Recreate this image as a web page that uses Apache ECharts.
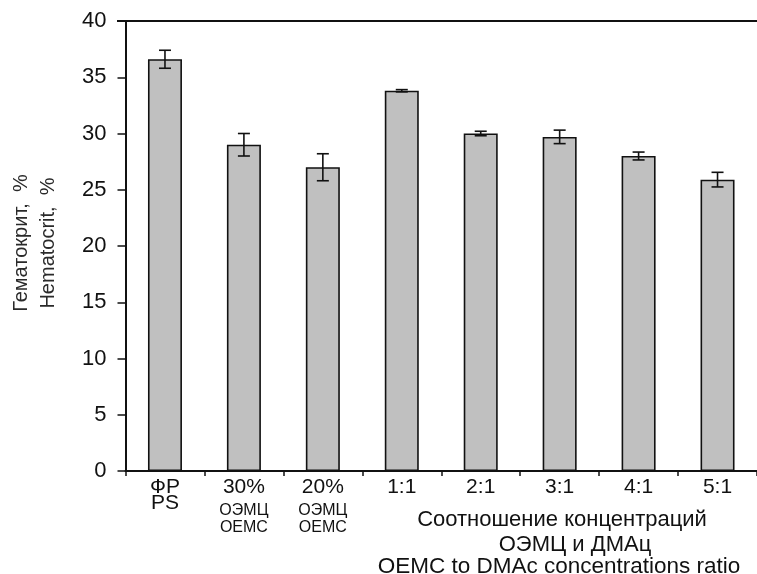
<!DOCTYPE html>
<html>
<head>
<meta charset="utf-8">
<script src="https://cdn.jsdelivr.net/npm/echarts@6/dist/echarts.min.js"></script>
<style>
  html, body { margin: 0; padding: 0; background: #fff; }
  #chart { width: 757px; height: 574px; }
</style>
</head>
<body>
<div id="chart"></div>
<script>
// Groups along the x axis (keys into the label formatter)
const categories = ['PS', '30', '20', '1:1', '2:1', '3:1', '4:1', '5:1'];
// Hematocrit, % (mean)
const hematocrit = [36.6, 29.0, 27.0, 33.8, 30.0, 29.7, 28.0, 25.9];
// Standard deviation for each group
const errors = [0.8, 1.0, 1.2, 0.1, 0.2, 0.6, 0.35, 0.65];
// Y axis ticks
const yTicks = [0, 5, 10, 15, 20, 25, 30, 35, 40];

const FONT = '"Liberation Sans", Arial, sans-serif';
const INK = '#111';

const chart = echarts.init(document.getElementById('chart'), null, { renderer: 'canvas' });

const errorData = hematocrit.map((v, i) => [i, v - errors[i], v + errors[i]]);

chart.setOption({
  animation: false,
  backgroundColor: '#fff',
  grid: { left: 125.5, top: 21, width: 642, height: 450, containLabel: false, show: false },
  xAxis: {
    type: 'category',
    data: categories,
    boundaryGap: true,
    axisLine: { lineStyle: { color: INK, width: 2 } },
    axisTick: { show: true, length: 5, lineStyle: { color: INK, width: 1.5 } },
    axisLabel: {
      interval: 0,
      margin: 8,
      color: INK,
      fontFamily: FONT,
      formatter: function (val) {
        if (val === 'PS') return '{b|ФР}\n{b|PS}';
        // spacer token widens the gap under the percentage line
        if (val === '30' || val === '20') return '{b|' + val + '%}\n{sp|\u200b}{s1|ОЭМЦ}\n{s|OEMC}';
        return '{b|' + val + '}';
      },
      rich: {
        b: { fontSize: 21, fontFamily: FONT, color: INK, lineHeight: 16 },
        sp: { fontSize: 1, lineHeight: 24 },
        s1: { fontSize: 16, fontFamily: FONT, color: INK, lineHeight: 18, verticalAlign: 'bottom' },
        s: { fontSize: 16, fontFamily: FONT, color: INK, lineHeight: 18 }
      }
    },
    splitLine: { show: false }
  },
  yAxis: {
    type: 'value',
    min: yTicks[0],
    max: yTicks[yTicks.length - 1],
    interval: 5,
    axisLine: { show: true, lineStyle: { color: INK, width: 2 } },
    axisTick: { show: true, inside: false, length: 8, lineStyle: { color: INK, width: 1.5 } },
    axisLabel: { color: INK, fontSize: 22, fontFamily: FONT, margin: 19 },
    splitLine: { show: false }
  },
  graphic: [
    // top frame line
    { type: 'line', shape: { x1: 117, y1: 21, x2: 757, y2: 21 }, style: { stroke: INK, lineWidth: 2 }, z: 10 },
    // y axis title
    {
      type: 'text', x: 35, y: 243, rotation: Math.PI / 2, originX: 0, originY: 0,
      style: { text: 'Гематокрит,  %\nHematocrit,  %', fontSize: 20, fontFamily: FONT, fill: '#2a2a2a',
               align: 'center', verticalAlign: 'middle', lineHeight: 27 }
    },
    // x axis title
    {
      type: 'text', x: 562, y: 520,
      style: { text: 'Соотношение концентраций', fontSize: 22, fontFamily: FONT, fill: INK,
               align: 'center', verticalAlign: 'middle' }
    },
    {
      type: 'text', x: 575, y: 545,
      style: { text: 'ОЭМЦ и ДМАц', fontSize: 22, fontFamily: FONT, fill: INK,
               align: 'center', verticalAlign: 'middle' }
    },
    {
      type: 'text', x: 559, y: 567,
      style: { text: 'OEMC to DMAc concentrations ratio', fontSize: 22.5, fontFamily: FONT, fill: INK,
               align: 'center', verticalAlign: 'middle' }
    }
  ],
  series: [
    {
      type: 'bar',
      data: hematocrit,
      barWidth: 34,
      itemStyle: { color: '#c0c0c0', borderColor: INK, borderWidth: 1.6 }
    },
    {
      type: 'custom',
      data: errorData,
      z: 5,
      renderItem: function (params, api) {
        const x = api.value(0);
        const lo = api.coord([x, api.value(1)]);
        const hi = api.coord([x, api.value(2)]);
        const cap = 6;
        const st = { stroke: INK, lineWidth: 1.6 };
        return {
          type: 'group',
          children: [
            { type: 'line', shape: { x1: lo[0], y1: lo[1], x2: hi[0], y2: hi[1] }, style: st },
            { type: 'line', shape: { x1: hi[0] - cap, y1: hi[1], x2: hi[0] + cap, y2: hi[1] }, style: st },
            { type: 'line', shape: { x1: lo[0] - cap, y1: lo[1], x2: lo[0] + cap, y2: lo[1] }, style: st }
          ]
        };
      }
    }
  ]
});
</script>
</body>
</html>
